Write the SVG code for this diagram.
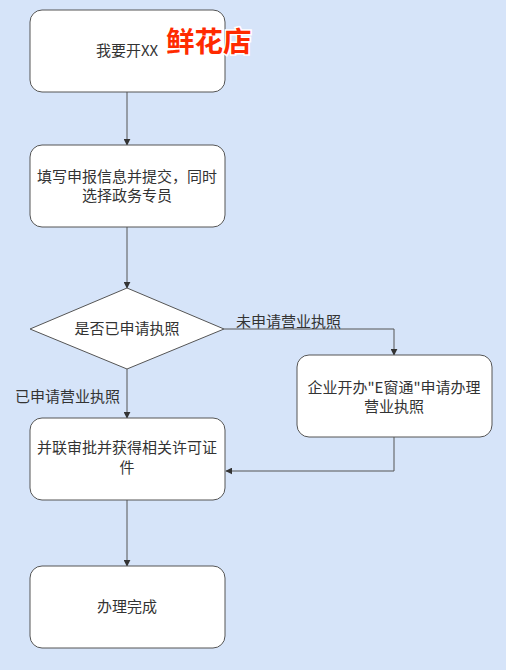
<svg xmlns="http://www.w3.org/2000/svg" width="506" height="670" viewBox="0 0 506 670">
<defs>
<marker id="arr" viewBox="0 0 10 10" refX="9" refY="5" markerWidth="7" markerHeight="7" markerUnits="userSpaceOnUse" orient="auto">
<path d="M0,0 L10,5 L0,10 z" fill="#333"/>
</marker>
</defs>
<style>
.node{fill:#fff;stroke:#555;stroke-width:1}
.t{font-family:"Noto Sans CJK SC","Liberation Sans",sans-serif;font-size:15px;fill:#333;text-anchor:middle}
.lbl{font-family:"Noto Sans CJK SC","Liberation Sans",sans-serif;font-size:15px;fill:#333}
.edge{fill:none;stroke:#555;stroke-width:1;marker-end:url(#arr)}
.hl{font-family:"Noto Sans CJK SC",sans-serif;font-size:28.5px;font-weight:bold;fill:#ff2a00;stroke:#fff;stroke-width:3;paint-order:stroke}
</style>
<rect width="506" height="670" fill="#d6e4f9"/>
<g id="connectors">
<path class="edge" d="M127,92 V145"/>
<path class="edge" d="M127,227 V288"/>
<path class="edge" d="M224,329 H394 V355"/>
<path class="edge" d="M127,369 V418"/>
<path class="edge" d="M394,437 V471 H226"/>
<path class="edge" d="M127,500 V566"/>
<text class="lbl" x="236" y="327">未申请营业执照</text>
<text class="lbl" x="15" y="402">已申请营业执照</text>
</g>
<g id="n1">
<rect class="node" x="30" y="10" width="195" height="82" rx="12"/>
<text class="t" x="127" y="56">我要开XX</text>
</g>
<g id="n2">
<rect class="node" x="30" y="145" width="195" height="82" rx="12"/>
<text class="t" x="127" y="182">填写申报信息并提交，同时</text>
<text class="t" x="127" y="201">选择政务专员</text>
</g>
<g id="n3">
<path class="node" d="M127,288 L224,329 L127,369 L30,329 Z"/>
<text class="t" x="127" y="334">是否已申请执照</text>
</g>
<g id="n4">
<rect class="node" x="297" y="355" width="195" height="82" rx="12"/>
<text class="t" x="394" y="393">企业开办"E窗通"申请办理</text>
<text class="t" x="394" y="412">营业执照</text>
</g>
<g id="n5">
<rect class="node" x="30" y="418" width="195" height="82" rx="12"/>
<text class="t" x="127" y="453">并联审批并获得相关许可证</text>
<text class="t" x="127" y="473">件</text>
</g>
<g id="n6">
<rect class="node" x="30" y="566" width="195" height="82" rx="12"/>
<text class="t" x="127" y="612">办理完成</text>
</g>
<text class="hl" x="166" y="52">鲜花店</text>
</svg>
